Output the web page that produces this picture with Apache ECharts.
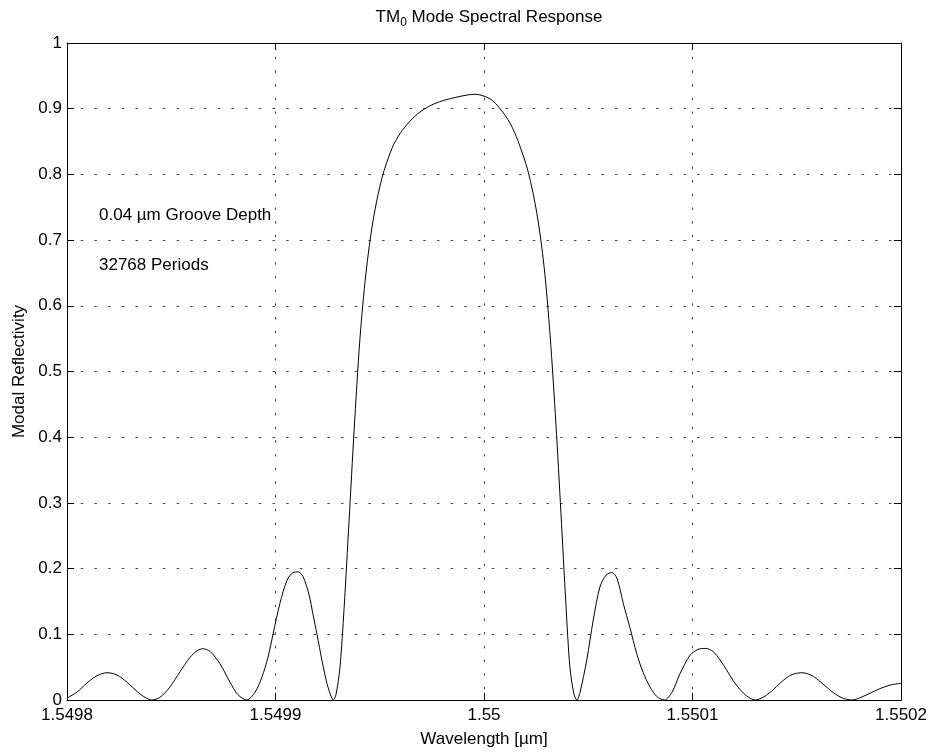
<!DOCTYPE html>
<html>
<head>
<meta charset="utf-8">
<script src="https://cdn.jsdelivr.net/npm/echarts@6/dist/echarts.min.js"></script>
<style>
html,body{margin:0;padding:0;background:#fff;}
#chart{width:935px;height:755px;}
</style>
</head>
<body>
<div id="chart"></div>
<script>
// Wavelength samples [µm]
const wavelength = [
  1.5498000, 1.5498048, 1.5498096, 1.5498144, 1.5498192, 1.5498240, 1.5498288, 1.5498336, 1.5498374, 1.5498406,
  1.5498446, 1.5498494, 1.5498542, 1.5498590, 1.5498624, 1.5498652, 1.5498686, 1.5498734, 1.5498782, 1.5498820, 1.5498862,
  1.5498902, 1.5498935, 1.5498964, 1.5498988, 1.5499022, 1.5499055, 1.5499084, 1.5499108, 1.5499132, 1.5499161,
  1.5499180, 1.5499199, 1.5499223, 1.5499247, 1.5499266, 1.5499277,
  1.5499290, 1.5499309, 1.5499329, 1.5499353, 1.5499377, 1.5499405, 1.5499434, 1.5499468, 1.5499511, 1.5499559,
  1.5499597, 1.5499645, 1.5499693, 1.5499765, 1.5499861, 1.5499957, 1.5500029, 1.5500077, 1.5500125, 1.5500163,
  1.5500211, 1.5500254, 1.5500288, 1.5500317, 1.5500345, 1.5500369, 1.5500393, 1.5500412, 1.5500432, 1.5500446,
  1.5500460, 1.5500493, 1.5500524, 1.5500556, 1.5500585, 1.5500613, 1.5500638, 1.5500668, 1.5500700, 1.5500732,
  1.5500763, 1.5500796, 1.5500830, 1.5500865,
  1.5500902, 1.5500940, 1.5500988, 1.5501026, 1.5501063, 1.5501098, 1.5501132, 1.5501165, 1.5501194, 1.5501228,
  1.5501261, 1.5501300,
  1.5501338, 1.5501381, 1.5501425, 1.5501472, 1.5501524, 1.5501568, 1.5501616, 1.5501664, 1.5501712, 1.5501764,
  1.5501808, 1.5501856, 1.5501904, 1.5501952, 1.5502000
];
// Modal reflectivity
const reflectivity = [
  0.003, 0.012, 0.026, 0.037, 0.0415, 0.038, 0.027, 0.013, 0.004, 0.0,
  0.004, 0.020, 0.043, 0.065, 0.075, 0.078, 0.074, 0.055, 0.027, 0.008, 0.0,
  0.012, 0.035, 0.065, 0.100, 0.148, 0.182, 0.194, 0.195, 0.188, 0.160,
  0.130, 0.100, 0.060, 0.025, 0.006, 0.0,
  0.008, 0.049, 0.140, 0.274, 0.410, 0.550, 0.650, 0.730, 0.795, 0.840,
  0.862, 0.881, 0.895, 0.908, 0.917, 0.922, 0.915, 0.900, 0.878, 0.851,
  0.805, 0.740, 0.660, 0.555, 0.420, 0.285, 0.145, 0.050, 0.008, 0.0,
  0.011, 0.061, 0.122, 0.172, 0.190, 0.194, 0.185, 0.147, 0.110, 0.071,
  0.042, 0.020, 0.005, 0.0,
  0.012, 0.040, 0.068, 0.077, 0.0785, 0.074, 0.061, 0.045, 0.030, 0.016,
  0.006, 0.0,
  0.004, 0.014, 0.027, 0.038, 0.0415, 0.038, 0.027, 0.014, 0.004, 0.0,
  0.004, 0.011, 0.018, 0.023, 0.0254
];
const xTicks = { min: 1.5498, max: 1.5502, step: 0.0001 };
const yTicks = { min: 0, max: 1, step: 0.1 };
const titleMain = 'TM';
const titleSub = '0';
const titleRest = ' Mode Spectral Response';
const xName = 'Wavelength [\u00b5m]';
const yName = 'Modal Reflectivity';
const note1 = '0.04 \u00b5m Groove Depth';
const note2 = '32768 Periods';

const FONT = 'Liberation Sans, Arial, Helvetica, sans-serif';
const FS = 17;
const seriesData = wavelength.map((w, i) => [w, reflectivity[i]]);

const gridLine = { show: true, lineStyle: { color: '#444', width: 1, type: [2.5, 11.2] } };
const boxLine = { show: true, onZero: false, lineStyle: { color: '#000', width: 1 } };
const tickIn = { show: true, inside: true, length: 7, lineStyle: { color: '#000', width: 1 } };

const chart = echarts.init(document.getElementById('chart'), null, { renderer: 'canvas' });
chart.setOption({
  animation: false,
  backgroundColor: '#fff',
  title: {
    text: '{m|' + titleMain + '}{s|' + titleSub + '}{m|' + titleRest + '}',
    left: 484, top: 4, textAlign: 'center',
    textStyle: {
      fontFamily: FONT, fontSize: FS, color: '#000', fontWeight: 'normal',
      rich: {
        m: { fontFamily: FONT, fontSize: FS, color: '#000', lineHeight: 20, verticalAlign: 'top' },
        s: { fontFamily: FONT, fontSize: 12, color: '#000', lineHeight: 13, padding: [14, 0, 0, 0], verticalAlign: 'bottom' }
      }
    }
  },
  grid: { left: 67, right: 34, top: 43, bottom: 55, containLabel: false, outerBoundsMode: 'none' },
  xAxis: [
    {
      type: 'value', position: 'bottom', min: xTicks.min, max: xTicks.max, interval: xTicks.step,
      axisLine: boxLine, axisTick: tickIn, splitLine: gridLine,
      axisLabel: { margin: 7, fontFamily: FONT, fontSize: FS, color: '#000',
        formatter: v => String(parseFloat(v.toFixed(4))) },
      name: xName, nameLocation: 'middle', nameGap: 31,
      nameTextStyle: { fontFamily: FONT, fontSize: FS, color: '#000' }
    },
    {
      type: 'value', position: 'top', min: xTicks.min, max: xTicks.max, interval: xTicks.step,
      axisLine: boxLine, axisTick: tickIn, splitLine: { show: false }, axisLabel: { show: false }
    }
  ],
  yAxis: [
    {
      type: 'value', position: 'left', min: yTicks.min, max: yTicks.max, interval: yTicks.step,
      axisLine: boxLine, axisTick: tickIn, splitLine: gridLine,
      axisLabel: { margin: 5, fontFamily: FONT, fontSize: FS, color: '#000' },
      name: yName, nameLocation: 'middle', nameGap: 38, nameRotate: 90,
      nameTextStyle: { fontFamily: FONT, fontSize: FS, color: '#000' }
    },
    {
      type: 'value', position: 'right', min: yTicks.min, max: yTicks.max, interval: yTicks.step,
      axisLine: boxLine, axisTick: tickIn, splitLine: { show: false }, axisLabel: { show: false }
    }
  ],
  graphic: [
    { type: 'text', left: 99, top: 207, style: { text: note1, font: FS + 'px ' + FONT, fill: '#000' } },
    { type: 'text', left: 99, top: 257, style: { text: note2, font: FS + 'px ' + FONT, fill: '#000' } }
  ],
  series: [{
    type: 'line', xAxisIndex: 0, yAxisIndex: 0, data: seriesData,
    showSymbol: false, smooth: 0.3,
    lineStyle: { color: '#000', width: 1 }
  }]
});
</script>
</body>
</html>
